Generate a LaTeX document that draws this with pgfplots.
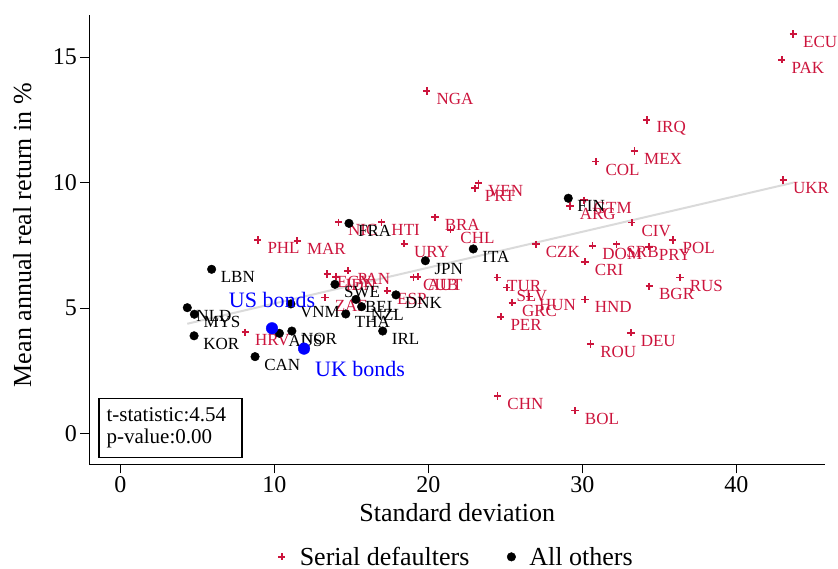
\documentclass[border=0pt]{standalone}
\usepackage{fontspec}
\setmainfont{Liberation Serif}
\usepackage{pgfplots}
\usepackage{pgfplotstable}
\pgfplotsset{compat=1.18}
\definecolor{sdred}{RGB}{204,20,60}
\definecolor{fitgray}{RGB}{218,218,218}

\pgfplotstableread{
x y label
43.70 15.92 ECU
42.96 14.90 PAK
19.90 13.65 NGA
34.18 12.50 IRQ
33.38 11.26 MEX
30.87 10.84 COL
43.05 10.11 UKR
23.25 9.98 VEN
23.03 9.78 PRT
30.11 9.30 GTM
29.20 9.07 ARG
20.43 8.62 BRA
21.45 8.12 CHL
16.97 8.42 HTI
14.16 8.42 NIC
18.44 7.57 URY
8.92 7.72 PHL
11.49 7.69 MAR
26.99 7.55 CZK
33.21 8.41 CIV
30.67 7.49 DOM
32.23 7.55 SRB
34.33 7.45 PRY
35.87 7.72 POL
30.18 6.85 CRI
36.34 6.22 RUS
34.35 5.88 BGR
30.18 5.35 HND
24.48 6.22 TUR
25.09 5.82 SLV
26.56 5.46 HUN
25.45 5.22 GRC
24.70 4.66 PER
33.16 4.02 DEU
30.53 3.57 ROU
24.50 1.50 CHN
29.53 0.92 BOL
8.12 4.04 HRV
13.29 5.42 ZAF
17.34 5.69 ESP
19.03 6.23 CUB
19.31 6.25 AUT
13.44 6.36 EGY
13.99 6.25 IDN
14.77 6.49 PAN
}\serial

\pgfplotstableread{
x y label
29.09 9.38 FIN
14.85 8.38 FRA
22.92 7.36 ITA
19.81 6.89 JPN
5.93 6.55 LBN
13.94 5.95 SWE
17.90 5.53 DNK
15.30 5.35 BEL
11.08 5.17 VNM
15.67 5.06 NZL
14.64 4.77 THA
17.04 4.09 IRL
4.35 5.02 NLD
4.81 4.76 MYS
4.79 3.90 KOR
8.75 3.07 CAN
10.33 4.00 AUS
11.14 4.09 NOR
}\others

\begin{document}
\begin{tikzpicture}
\useasboundingbox (0,0) rectangle (838pt,568pt);
\begin{axis}[
  at={(89.3pt,103.7pt)}, anchor=south west,
  scale only axis, width=735.7pt, height=449.3pt,
  xmin=-2.013, xmax=45.76, ymin=-1.219, ymax=16.68,
  axis x line=bottom, axis y line=left,
  axis line style={-, line width=1.2pt, black},
  xtick={0,10,20,30,40}, ytick={0,5,10,15},
  minor tick num=0,
  tick align=outside, major tick length=9pt,
  tick style={line width=1.2pt, black},
  tick label style={font=\fontsize{24}{24}\selectfont},
  /pgf/number format/assume math mode=true,
  clip=false,
  xlabel={Standard deviation},
  ylabel={Mean annual real return in \%},
  label style={font=\fontsize{26}{26}\selectfont},
  xlabel style={at={(axis description cs:0.5,-0.108)}, anchor=center, inner sep=0pt},
  ylabel style={at={(axis description cs:-0.091,0.51)}, anchor=center, inner sep=0pt},
  legend columns=2,
  legend image code/.code={%
    \path[draw=none, fill=none] (-8pt,-5pt) rectangle (16pt,5pt);
    \draw[#1] plot coordinates {(0pt,0pt)};},
  legend style={draw=none, at={(0.496,-0.206)}, anchor=center,
    font=\fontsize{26}{26}\selectfont,
    /tikz/every even column/.append style={column sep=32pt}},
  point meta=explicit symbolic,
]
\addplot[fitgray, line width=2pt, forget plot] coordinates {(4.35,4.38) (43.7,10.0)};
\addplot[only marks, mark=+, mark size=3.6pt, sdred, mark options={line width=1.7pt},
  nodes near coords, every node near coord/.style={anchor=west, inner sep=0pt, xshift=9pt, yshift=-8pt, text=sdred, font=\fontsize{17}{17}\selectfont}]
  table[x=x, y=y, meta=label] {\serial};
\addlegendentry{Serial defaulters}
\addplot[only marks, mark=*, mark size=4.3pt, black,
  nodes near coords, every node near coord/.style={anchor=west, inner sep=0pt, xshift=9pt, yshift=-8pt, text=black, font=\fontsize{17}{17}\selectfont}]
  table[x=x, y=y, meta=label] {\others};
\addlegendentry{All others}
\addplot[only marks, mark=*, mark size=5.8pt, blue, forget plot,
  nodes near coords, every node near coord/.style={anchor=south, inner sep=0pt, yshift=20pt, text=blue, font=\fontsize{22}{22}\selectfont}]
  table[x=x, y=y, meta=label] {
x y label
9.85 4.20 {US bonds}
};
\addplot[only marks, mark=*, mark size=5.8pt, blue, forget plot,
  nodes near coords, every node near coord/.style={anchor=west, inner sep=0pt, xshift=11pt, yshift=-20pt, text=blue, font=\fontsize{22}{22}\selectfont}]
  table[x=x, y=y, meta=label] {
x y label
11.93 3.39 {UK bonds}
};
\node[draw, line width=1.5pt, anchor=south west, inner xsep=7.5pt, inner ysep=0pt,
  minimum height=59pt, text width=128pt, align=left,
  font=\fontsize{21}{22.3}\selectfont]
  at (rel axis cs:0.0122,0.0134) {t-statistic:4.54\\p-value:0.00};
\end{axis}
\end{tikzpicture}
\end{document}
